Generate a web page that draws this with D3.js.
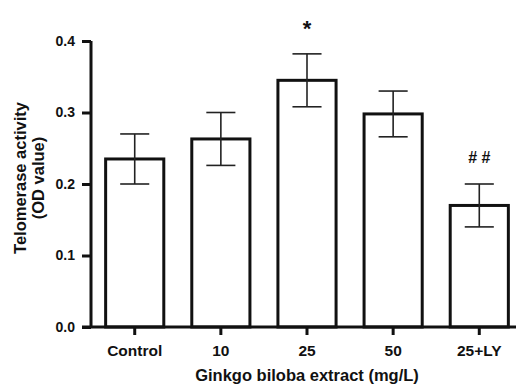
<!DOCTYPE html>
<html>
<head>
<meta charset="utf-8">
<script src="https://cdn.jsdelivr.net/npm/d3@7"></script>
<style>
  body { margin: 0; background: #fff; }
  svg { display: block; font-family: "Liberation Sans", Arial, sans-serif; }
</style>
</head>
<body>
<div class="chart"></div>
<script>
;(function () {
  var W = 517
  var H = 384

  var categories = ['Control', '10', '25', '50', '25+LY']
  var means = [0.235, 0.263, 0.345, 0.298, 0.170]
  var errors = [0.035, 0.037, 0.037, 0.032, 0.030]
  var marks = ['', '', '*', '', '# #']
  var yTicks = [0.0, 0.1, 0.2, 0.3, 0.4]

  var margin = { top: 41, right: 0, bottom: 57, left: 91 }
  var FONT = '"Liberation Sans", Arial, sans-serif'

  var svg = d3.select('.chart').append('svg')
    .attr('width', W)
    .attr('height', H)

  var x = d3.scaleBand()
    .domain(categories)
    .range([91, 523])
    .paddingInner(0.325)
    .paddingOuter(0.17)

  var y = d3.scaleLinear()
    .domain([0, 0.4])
    .range([H - margin.bottom, margin.top])

  var g = svg.append('g')

  // bars
  g.selectAll('rect.bar')
    .data(categories)
    .enter().append('rect')
    .attr('class', 'bar')
    .attr('x', function (d) { return x(d) })
    .attr('y', function (d, i) { return y(means[i]) })
    .attr('width', x.bandwidth())
    .attr('height', function (d, i) { return y(0) - y(means[i]) })
    .attr('fill', '#fff')
    .attr('stroke', '#111')
    .attr('stroke-width', 3)

  // error bars + significance marks
  var capHalf = x.bandwidth() / 4
  categories.forEach(function (c, i) {
    var cx = x(c) + x.bandwidth() / 2
    var hi = y(means[i] + errors[i])
    var lo = y(means[i] - errors[i])
    g.append('line')
      .attr('x1', cx).attr('x2', cx)
      .attr('y1', hi).attr('y2', lo)
      .attr('stroke', '#222').attr('stroke-width', 1.6)
    g.append('line')
      .attr('x1', cx - capHalf).attr('x2', cx + capHalf)
      .attr('y1', hi).attr('y2', hi)
      .attr('stroke', '#222').attr('stroke-width', 1.6)
    g.append('line')
      .attr('x1', cx - capHalf).attr('x2', cx + capHalf)
      .attr('y1', lo).attr('y2', lo)
      .attr('stroke', '#222').attr('stroke-width', 1.6)
    if (marks[i]) {
      g.append('text')
        .attr('x', cx)
        .attr('y', marks[i] === '*' ? 36 : hi - 21)
        .attr('text-anchor', 'middle')
        .attr('font-size', marks[i] === '*' ? 22 : 16)
        .attr('font-weight', 'bold')
        .attr('fill', '#111')
        .text(marks[i])
    }
  })

  // y axis
  var yAxis = svg.append('g')
    .attr('transform', 'translate(' + margin.left + ',0)')
    .call(d3.axisLeft(y).tickValues(yTicks).tickFormat(d3.format('.1f')).tickSize(9).tickPadding(7))
  yAxis.select('.domain').attr('stroke', '#111').attr('stroke-width', 3)
    .attr('d', 'M0,' + y(0.4) + 'V' + y(0))
  yAxis.selectAll('.tick line').attr('stroke', '#111').attr('stroke-width', 3)
  yAxis.selectAll('.tick text')
    .attr('font-size', 14).attr('font-weight', 'bold').attr('fill', '#111')
    .attr('font-family', FONT)

  // x axis
  var xAxis = svg.append('g')
    .attr('transform', 'translate(0,' + y(0) + ')')
    .call(d3.axisBottom(x).tickSize(8).tickPadding(10))
  xAxis.select('.domain').attr('stroke', '#111').attr('stroke-width', 3)
    .attr('d', 'M82,0H516')
  xAxis.selectAll('.tick line').attr('stroke', '#111').attr('stroke-width', 3)
  xAxis.selectAll('.tick text')
    .attr('font-size', 15.5).attr('font-weight', 'bold').attr('fill', '#111')
    .attr('font-family', FONT)

  // axis titles
  svg.append('text')
    .attr('x', 307)
    .attr('y', 381)
    .attr('text-anchor', 'middle')
    .attr('font-size', 16.5)
    .attr('font-weight', 'bold')
    .attr('fill', '#111')
    .text('Ginkgo biloba extract (mg/L)')

  var yTitle = svg.append('text')
    .attr('transform', 'translate(26,178) rotate(-90)')
    .attr('text-anchor', 'middle')
    .attr('font-size', 16.5)
    .attr('font-weight', 'bold')
    .attr('fill', '#111')
  yTitle.append('tspan').attr('x', 0).attr('dy', 0).text('Telomerase activity')
  yTitle.append('tspan').attr('x', 0).attr('dy', 18).text('(OD value)')
})()
</script>
</body>
</html>
